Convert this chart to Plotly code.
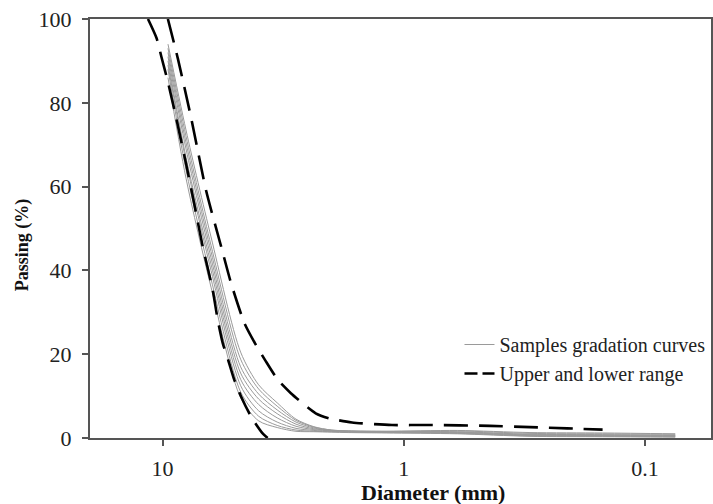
import math
import plotly.graph_objects as go

# Sample gradation curves (diameter in mm, passing in %)
sample_diam = [9.5, 8, 6.3, 4.75, 4, 3.35, 2.8, 2.36, 2, 1.7, 1.18, 0.6, 0.3, 0.15, 0.075]
samples = [
    [86, 62, 36, 9.6, 4.1, 2.5, 1.6, 1.5, 1.4, 1.3, 1.2, 1.0, 0.4, 0.3, 0.2],
    [88, 64, 38, 11, 5.2, 3.0, 1.9, 1.6, 1.5, 1.4, 1.3, 1.1, 0.5, 0.4, 0.3],
    [89, 66, 40, 12.5, 6.5, 3.8, 2.3, 1.8, 1.6, 1.5, 1.4, 1.2, 0.6, 0.5, 0.4],
    [90, 67, 41.5, 14, 8, 4.8, 2.8, 2.0, 1.7, 1.5, 1.4, 1.3, 0.7, 0.6, 0.5],
    [91, 69, 43, 15.5, 9.3, 5.8, 3.3, 2.2, 1.8, 1.6, 1.5, 1.4, 0.8, 0.7, 0.6],
    [92, 70.5, 44.5, 17, 10.5, 6.7, 3.8, 2.4, 1.8, 1.6, 1.5, 1.5, 0.9, 0.8, 0.7],
    [93, 72, 46, 18.8, 11.7, 7.6, 4.2, 2.6, 1.9, 1.7, 1.6, 1.7, 1.1, 1.0, 0.9],
    [94, 73.5, 48, 20.5, 12.7, 8.4, 4.5, 2.7, 1.9, 1.7, 1.6, 1.8, 1.3, 1.2, 1.0],
]

# Upper range (dashed)
upper_diam = [9.51, 8.65, 7.61, 6.60, 5.72, 5.20, 4.58, 4.14, 3.76, 3.32, 2.94, 2.32, 2.04, 1.64, 1.12, 0.79, 0.44, 0.30, 0.21, 0.15]
upper_pass = [100, 90.6, 76.3, 59, 45.7, 36.9, 27.4, 22.6, 18.6, 13.8, 10.7, 5.9, 4.7, 3.7, 3.1, 3.1, 2.9, 2.6, 2.3, 2.0]

# Lower range (dashed)
lower_diam = [11.50, 10.59, 10.12, 9.51, 8.78, 7.98, 7.38, 6.82, 6.20, 5.91, 5.63, 5.34, 5.04, 4.73, 4.30, 3.85, 3.67]
lower_pass = [100, 95.4, 91, 85, 76.3, 65.2, 55.6, 45.7, 35.3, 28.2, 22.6, 18.5, 13.8, 9.9, 5.1, 1.1, 0]

x_ticks = [10, 1, 0.1]
x_tick_labels = ["10", "1", "0.1"]
y_ticks = [0, 20, 40, 60, 80, 100]

SERIF = "Liberation Serif, Times New Roman, serif"

fig = go.Figure()
for i, s in enumerate(samples):
    fig.add_trace(go.Scatter(
        x=sample_diam, y=s, mode="lines",
        line=dict(color="#9a9a9a", width=1, shape="spline", smoothing=0.8),
        name="Samples gradation curves", legendgroup="samples",
        showlegend=(i == 0),
    ))

dash_style = dict(color="black", width=2.6, dash="24px,11px", shape="spline", smoothing=0.6)
fig.add_trace(go.Scatter(x=upper_diam, y=upper_pass, mode="lines", line=dash_style,
                         name="Upper and lower range", legendgroup="range", showlegend=False))
fig.add_trace(go.Scatter(x=lower_diam, y=lower_pass, mode="lines", line=dash_style,
                         name="Upper and lower range", legendgroup="range", showlegend=False))
# legend entry for the dashed range curves (shorter dash pattern so the key shows two dashes)
fig.add_trace(go.Scatter(x=[None], y=[None], mode="lines",
                         line=dict(color="black", width=2.6, dash="13px,5px"),
                         name="Upper and lower range", legendgroup="range", showlegend=True))

axis_color = "#555555"
plot_w = 713 - 90
plot_h = 504 - 19 - 66

fig.update_layout(
    width=713, height=504,
    margin=dict(l=90, r=0, t=19, b=66),
    paper_bgcolor="white", plot_bgcolor="white",
    font=dict(family=SERIF, color="#222222", size=21),
    showlegend=True,
    legend=dict(x=0.595, y=(438 - 359) / plot_h, xanchor="left", yanchor="middle",
                bgcolor="rgba(0,0,0,0)", font=dict(size=20, family=SERIF, color="#222222"),
                tracegroupgap=0),
    xaxis=dict(
        type="log", range=[math.log10(20.0), math.log10(0.0533)],
        tickmode="array", tickvals=x_ticks, ticktext=x_tick_labels,
        ticks="outside", ticklen=6, tickwidth=1.5, tickcolor=axis_color,
        showline=True, linecolor=axis_color, linewidth=2, mirror=True,
        showgrid=False, zeroline=False, ticklabelstandoff=4,
        tickfont=dict(size=22, family=SERIF, color="#222222"),
    ),
    yaxis=dict(
        range=[0, 100], tickmode="array", tickvals=y_ticks,
        ticks="outside", ticklen=6, tickwidth=1.5, tickcolor=axis_color,
        showline=True, linecolor=axis_color, linewidth=2, mirror=True,
        showgrid=False, zeroline=False, ticklabelstandoff=6,
        tickfont=dict(size=22, family=SERIF, color="#222222"),
    ),
    annotations=[
        dict(text="<b>Diameter (mm)</b>", x=(434 - 90) / plot_w, y=(438 - 492) / plot_h,
             xref="paper", yref="paper", xanchor="center", yanchor="middle",
             showarrow=False, font=dict(size=22, family=SERIF, color="#111111")),
        dict(text="<b>Passing (%)</b>", x=(22 - 90) / plot_w, y=(438 - 245) / plot_h,
             xref="paper", yref="paper", xanchor="center", yanchor="middle", textangle=-90,
             showarrow=False, font=dict(size=18, family=SERIF, color="#111111")),
    ],
)

fig.write_html("out.html")
